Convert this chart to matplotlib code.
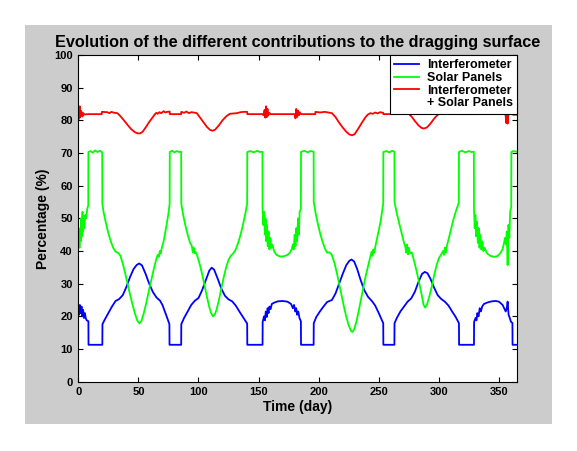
import matplotlib
matplotlib.use("Agg")
import matplotlib.pyplot as plt
from matplotlib.lines import Line2D
from matplotlib.patches import Rectangle

plt.rcParams['font.family'] = ['Liberation Sans', 'DejaVu Sans']

# ---- data (day, percentage) ----
interf_days = [0, 0.7, 1.3, 2, 2.7, 3.3, 4, 4.7, 5.5, 6.3, 7, 8.4, 8.5, 20, 20.1, 22, 25, 28, 31, 34,
               37, 40, 43, 46, 48.5, 50.6, 53, 56, 59, 62, 65, 68, 70, 72, 74, 75.8, 75.9, 85.6, 85.7, 88,
               91, 94, 97, 100, 103, 106, 109, 111, 113, 116, 119, 122, 125, 128, 131, 134, 137, 140.5, 140.6, 153.3,
               153.4, 154.5, 155.3, 156, 156.8, 157.5, 158.3, 159, 160, 161, 163, 166, 170, 174, 177, 178.5, 179.5, 180.5, 181.3, 182,
               183, 184, 185.2, 185.3, 195.8, 195.9, 198, 201, 204, 207, 211, 214, 217, 220, 223, 225.5, 227.3, 229.5, 232, 235,
               238, 241, 244.5, 247, 250, 253.7, 253.8, 263, 263.1, 265, 268, 271, 274, 277, 280, 283, 286, 288.3, 290.5, 293,
               296, 299, 302, 305, 308, 311, 314, 316.7, 316.8, 329.2, 329.3, 330.5, 331.3, 332, 333, 334, 335, 336, 337.5, 340,
               344, 347.3, 350, 353, 355.6, 356.5, 357.2, 358, 359, 360, 361.2, 361.3, 365]
interf_vals = [22.5, 20.5, 23.5, 21, 23, 20, 22, 19.5, 21, 19.3, 18.8, 18.5, 11.3, 11.3, 17.6, 19, 21, 23, 24.7, 25.3,
               26.5, 29, 32, 34.5, 35.7, 36.2, 35.6, 33, 30, 27.5, 25.8, 24.8, 23.5, 21.5, 19.5, 17.6, 11.3, 11.3, 17.6, 19.5,
               21.5, 23.5, 24.8, 25.6, 28, 31, 34, 34.9, 34.3, 31.5, 28.5, 26.3, 25.2, 24.6, 23.3, 21.5, 19.8, 17.8, 11.3, 11.3,
               18.3, 20, 18.8, 21.5, 19.8, 22.5, 21, 23, 22.2, 23.8, 24.2, 24.6, 24.7, 24.5, 23.8, 22.5, 23.5, 21.5, 22.5, 20.5,
               21.5, 19.5, 18.5, 11.3, 11.3, 17.9, 19.8, 21.5, 23, 24.4, 25, 27, 30, 33, 35.7, 37, 37.4, 36.8, 34.5, 31,
               28, 26, 24.6, 23.3, 21, 17.9, 11.3, 11.3, 17.9, 19.5, 21.5, 23, 24.5, 25.5, 27.5, 30.5, 33, 33.6, 33.2, 31.5,
               28.8, 26.5, 25.3, 24.5, 23.3, 21.5, 19.8, 17.9, 11.3, 11.3, 18.3, 19.5, 18.8, 21, 20, 22.5, 21.5, 23, 23.8, 24.2,
               24.6, 24.7, 24.5, 23.5, 21.5, 22.5, 24.5, 20.5, 19.5, 18.3, 18.0, 11.3, 11.3]

solar_days = [0, 0.5, 1, 1.5, 2, 2.5, 3, 3.5, 4, 4.5, 5, 5.8, 6.5, 7.5, 8.3, 8.4, 10, 12, 14, 16,
              18, 19.9, 20, 21, 23, 25, 27, 29, 31, 33, 35, 37, 39, 41, 43, 45, 47, 49, 50.8, 52.5,
              54.5, 56.5, 58.5, 60.5, 62.5, 64.5, 66, 67, 67.8, 68.5, 69.5, 71, 73, 75, 76, 76.1, 78, 80, 82, 84,
              85.6, 85.7, 87, 89, 91, 93, 94.5, 95.3, 96, 96.8, 97.5, 99, 101, 103, 105, 107, 109, 110.5, 112, 113.5,
              115, 117, 119, 121, 123, 125, 127, 129, 131, 133, 135, 137, 139, 140.5, 140.6, 143, 146, 149, 151, 153.2,
              153.3, 154, 154.6, 155.2, 155.8, 156.4, 157, 157.6, 158.3, 159, 159.8, 160.5, 161.5, 163, 165, 168, 171, 174, 176, 177.5,
              178.5, 179.2, 180, 180.7, 181.4, 182.1, 182.8, 183.5, 184.2, 185.2, 185.3, 188, 191, 193, 195.8, 195.9, 197.5, 199.5, 201.5, 203.5,
              205.5, 207, 209, 211, 213, 215, 217, 219, 221, 223, 225, 227, 228, 229.5, 231.5, 233.5, 235.5, 237.5, 239.5, 241.5,
              243, 244, 244.8, 245.5, 246.3, 247.5, 249.5, 251.5, 253.7, 253.8, 256, 259, 261, 263, 263.1, 265, 267, 269, 271, 272,
              272.8, 273.5, 274.3, 275, 276, 277.5, 279.5, 281.5, 283.5, 285.5, 287.3, 288.5, 290, 292, 294, 296, 298, 300, 302, 303.5,
              304.3, 305, 305.8, 306.6, 308, 310, 312, 314, 316.6, 316.7, 319, 322, 325, 327, 329.1, 329.2, 329.8, 330.4, 331, 331.7,
              332.4, 333.1, 333.8, 334.5, 335.3, 336.2, 337, 338, 340, 343, 346, 349, 351, 353, 354.2, 355, 355.8, 356.5, 357.2, 357.9,
              358.6, 359.3, 360.2, 360.3, 362, 365]
solar_vals = [42.5, 45, 41, 47, 43, 50, 44.5, 52, 46, 49, 47, 51, 50, 53, 54, 70.3, 70.6, 70.1, 70.8, 70.3,
              70.7, 70.2, 54.5, 52, 48.5, 45.5, 43, 41, 39.8, 39.5, 38.6, 36.2, 33.2, 30, 26.8, 23.8, 21, 18.8, 17.8, 18.6,
              21, 24, 27.5, 30.8, 34, 37, 38.8, 38.2, 40, 39.2, 41, 43, 47, 51.5, 54.5, 70.3, 70.7, 70.2, 70.6, 70.3,
              70.4, 54.5, 51.5, 48, 45, 42.5, 41.5, 39.5, 41, 39.3, 39.8, 38.5, 36, 33, 29.5, 26, 22.8, 21, 20, 20.5,
              22, 25, 28.5, 32, 35, 37.3, 38.6, 39.3, 40.5, 42.5, 45, 48, 51.5, 54.5, 70.3, 70.6, 70.2, 70.7, 70.3, 70.4,
              53, 48, 52, 45, 50, 43, 48, 41.5, 46, 40.5, 44, 41, 42, 39.8, 38.8, 38.3, 38.4, 38.8, 39.5, 40.5,
              42, 40.5, 45, 41.5, 47, 43, 50, 45, 52, 53, 70.3, 70.7, 70.2, 70.6, 70.4, 55, 51.5, 48, 45, 42.5,
              40.5, 39.5, 39.6, 38.8, 36.5, 33.5, 30, 26.5, 23, 19.8, 17.2, 15.5, 15.2, 16, 18.5, 22, 25.8, 29.5, 33, 36,
              38.3, 39.8, 38.5, 40.5, 39.5, 42, 45.5, 49, 54.5, 70.3, 70.6, 70.2, 70.7, 70.4, 55, 51.5, 48.5, 45.5, 42.5, 41.5,
              39.5, 42, 39, 41, 39.3, 39.5, 36.8, 33.8, 30.5, 27, 23.5, 22.7, 23.5, 26, 29, 32.5, 35.5, 37.8, 39, 40,
              38.8, 41, 39.5, 41.5, 43.5, 46.5, 49.5, 52, 54.8, 70.3, 70.7, 70.2, 70.6, 70.3, 70.4, 53, 47, 51, 44.5, 49,
              42.5, 47, 41, 45, 40.5, 43, 40, 41, 39.3, 38.5, 38.2, 38.5, 39.3, 40.5, 42.5, 44, 42, 46, 35.7, 48,
              44, 52, 53.5, 70.3, 70.6, 70.4]

total_days = [0, 0.4, 0.8, 1.2, 1.6, 2, 2.5, 3, 3.5, 4.2, 5, 8.4, 19.5, 19.6, 24, 26, 27.5, 30, 32.5, 35,
              38, 41, 44, 47, 49.5, 51.5, 53.5, 56, 59, 62, 64, 65, 66, 67.5, 69, 71, 72.5, 74, 76, 76.1,
              85.6, 85.7, 88, 90, 92, 94, 96, 98.6, 101, 104, 107, 109.5, 111.7, 114, 117, 120, 123, 126, 129, 132,
              135, 138, 140.5, 140.6, 153, 154, 155, 155.6, 156.2, 156.8, 157.4, 158, 159, 160, 180, 180.7, 181.3, 182, 182.7, 183.4,
              184.2, 185.2, 197.2, 197.3, 201, 205, 208, 211, 214, 217, 220, 223, 225.5, 227.8, 230, 233, 236, 239, 241, 243,
              245, 247, 249, 251, 253.7, 253.8, 263, 263.1, 266, 270, 274, 277, 280, 283, 285.5, 287.5, 290, 293, 296, 298.5,
              300, 303, 306, 310, 314, 316.7, 316.8, 329, 329.1, 333, 336, 340, 344, 348, 352, 355.5, 356, 356.5, 357.2, 357.8,
              358.5, 360.3, 362, 365]
total_vals = [81, 83.5, 80.5, 84.3, 81, 83, 81.5, 82.5, 81.2, 82.2, 81.8, 81.9, 81.9, 82.6, 82.5, 82.2, 82.6, 82.3, 82.2, 81.3,
              80, 78.6, 77.3, 76.4, 76, 76, 76.5, 77.8, 79.5, 81, 82, 82.3, 82, 82.5, 82.2, 82.8, 82.4, 82.6, 82.7, 81.9,
              81.9, 82.6, 82.3, 82.7, 82.2, 82.5, 82.4, 82.2, 81, 79.5, 78, 77.1, 76.8, 77.2, 78.5, 80, 81.2, 82, 82.1, 82.2,
              82.5, 82.6, 82.6, 81.9, 81.9, 81.6, 83.2, 80.8, 84.3, 81, 83.5, 81.5, 82.3, 81.9, 81.9, 80.6, 83.5, 81, 83, 81.5,
              82.5, 81.9, 81.9, 82.6, 82.4, 82.6, 82.4, 82.2, 81, 79.3, 77.8, 76.5, 75.7, 75.4, 75.8, 77.5, 79.3, 81, 81.8, 82.2,
              82, 82.4, 82.1, 82.5, 82.3, 81.9, 81.9, 82.4, 82.3, 82.5, 82.2, 81.3, 79.8, 78.5, 77.7, 77.5, 77.8, 79, 80.5, 81.5,
              82, 82.2, 82, 82.3, 82.1, 82.3, 81.9, 81.9, 82.2, 82, 82.3, 82, 82.2, 81.9, 82.1, 81.8, 79.2, 82.5, 79, 81.8,
              82.3, 81.9, 81.7, 81.7]

x_ticks = [0, 50, 100, 150, 200, 250, 300, 350]
y_ticks = [0, 10, 20, 30, 40, 50, 60, 70, 80, 90, 100]


def main():
    fig = plt.figure(figsize=(5.77, 4.51), dpi=100, facecolor='white')
    # grey matlab-style figure panel, kept behind the axes
    fig.patches.append(Rectangle((25 / 577, 1 - 424 / 451), 527 / 577, 399 / 451,
                                 transform=fig.transFigure, facecolor='#cccccc',
                                 edgecolor='none', zorder=-10))

    ax = fig.add_axes([78.3 / 577, 1 - 381.7 / 451, 438.7 / 577, 326.7 / 451])
    ax.set_facecolor('white')

    l1, = ax.plot(interf_days, interf_vals, color='#0000ff', lw=1.3)
    l2, = ax.plot(solar_days, solar_vals, color='#00ff00', lw=1.3)
    l3, = ax.plot(total_days, total_vals, color='#ff0000', lw=1.3)

    ax.set_xlim(0, 365)
    ax.set_ylim(0, 100)
    ax.set_xticks(x_ticks)
    ax.set_yticks(y_ticks)
    ax.tick_params(direction='in', length=3.5, width=0.8, top=True, right=True,
                   labelsize=8, pad=4)
    for lab in ax.get_xticklabels() + ax.get_yticklabels():
        lab.set_fontweight('bold')
    for sp in ax.spines.values():
        sp.set_linewidth(0.8)

    ax.set_title('Evolution of the different contributions to the dragging surface',
                 fontsize=11.7, fontweight='bold', pad=6)
    ax.set_xlabel('Time (day)', fontsize=10, fontweight='bold', labelpad=2)
    ax.set_ylabel('Percentage (%)', fontsize=10, fontweight='bold', labelpad=3)

    # second text line of the red entry sits under its label (matlab style)
    blank = Line2D([], [], color='none')
    leg = ax.legend([l1, l2, l3, blank],
                    ['Interferometer', 'Solar Panels', 'Interferometer', '+ Solar Panels'],
                    loc='upper right', borderaxespad=0, fancybox=False, framealpha=1,
                    edgecolor='black', prop={'weight': 'bold', 'size': 9},
                    handlelength=2.0, handletextpad=0.6, labelspacing=0.05,
                    borderpad=0.35)
    leg.get_frame().set_linewidth(0.8)

    plt.savefig('out.png', dpi=100, facecolor='white')
    plt.close()


if __name__ == "__main__":
    main()
